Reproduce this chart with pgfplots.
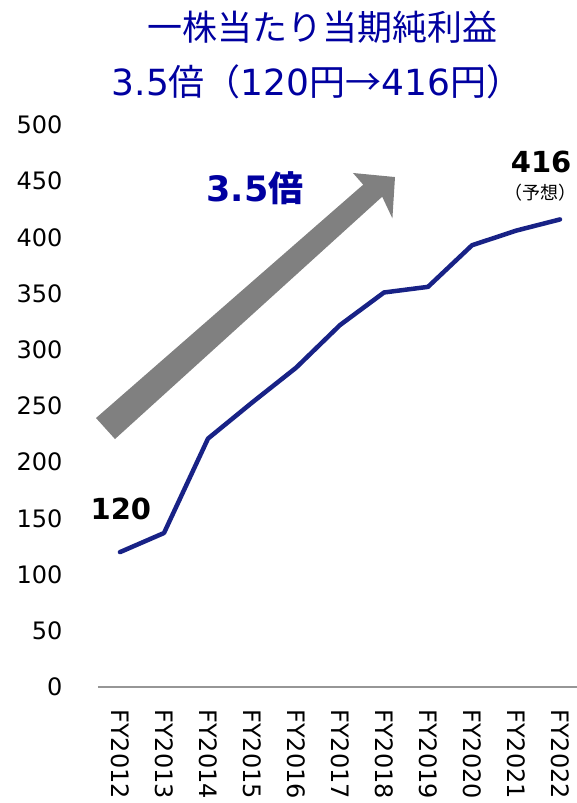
\documentclass[border=0pt]{standalone}
\usepackage{fontspec}
\usepackage{pgfplots}
\pgfplotsset{compat=1.18}
\setmainfont{DejaVu Sans}
\newfontfamily\jp{Noto Sans CJK JP}
\newfontfamily\djv{DejaVu Sans}
\definecolor{navy}{RGB}{24,34,134}
\definecolor{ttl}{RGB}{0,0,160}
\definecolor{arrowgray}{RGB}{128,128,128}
\definecolor{axgray}{RGB}{150,150,150}
\begin{document}
\begin{tikzpicture}
\begin{axis}[
  scale only axis,
  width=479.6bp, height=562bp,
  xmin=-0.5, xmax=10.4,
  ymin=0, ymax=500,
  ytick={0,50,...,500},
  xtick={0,...,10},
  xticklabels={FY2012,FY2013,FY2014,FY2015,FY2016,FY2017,FY2018,FY2019,FY2020,FY2021,FY2022},
  axis lines*=left,
  x axis line style={draw=axgray, line width=1.5bp, -},
  y axis line style={draw=none},
  tick style={draw=none},
  /pgf/number format/assume math mode=true,
  yticklabel style={font=\fontsize{24bp}{28bp}\selectfont, anchor=east, xshift=-32bp},
  xticklabel style={font=\fontsize{24bp}{28bp}\selectfont, rotate=-90, anchor=west, xshift=19bp},
  clip=false,
]
\fill[arrowgray] (axis cs:-0.545,239.3) -- (axis cs:5.527,446.9) -- (axis cs:5.295,457.3) -- (axis cs:6.25,453.7) -- (axis cs:6.191,416.9) -- (axis cs:5.959,436.2) -- (axis cs:-0.114,220.6) -- cycle;
\addplot[navy, line width=4.5bp, line join=round, line cap=round] coordinates {
(0,120) (1,137) (2,221) (3,253) (4,284) (5,322) (6,351) (7,356) (8,393) (9,406) (10,416)
};
\node[font=\fontsize{29bp}{32bp}\selectfont\bfseries] at (axis cs:0.02,158.4) {120};
\node[font=\fontsize{29bp}{32bp}\selectfont\bfseries] at (axis cs:9.57,467) {416};
\node[font=\jp\fontsize{18bp}{20bp}\selectfont, inner sep=0pt] at (axis cs:9.55,440) {（予想）};
\node[font=\fontsize{35bp}{40bp}\selectfont\bfseries, text=ttl] at (axis cs:3.07,444) {3.5{\jp\bfseries 倍}};
\end{axis}
\node[font=\jp\fontsize{35bp}{40bp}\selectfont, text=ttl] at (224bp,660bp) {一株当たり当期純利益};
\node[font=\jp\fontsize{36bp}{40bp}\selectfont, text=ttl] at (219bp,605bp) {{\djv 3.5}倍（{\djv 120}円→{\djv 416}円）};
\pgfresetboundingbox
\useasboundingbox (-98bp,-116bp) rectangle (479bp,687bp);
\end{tikzpicture}
\end{document}
